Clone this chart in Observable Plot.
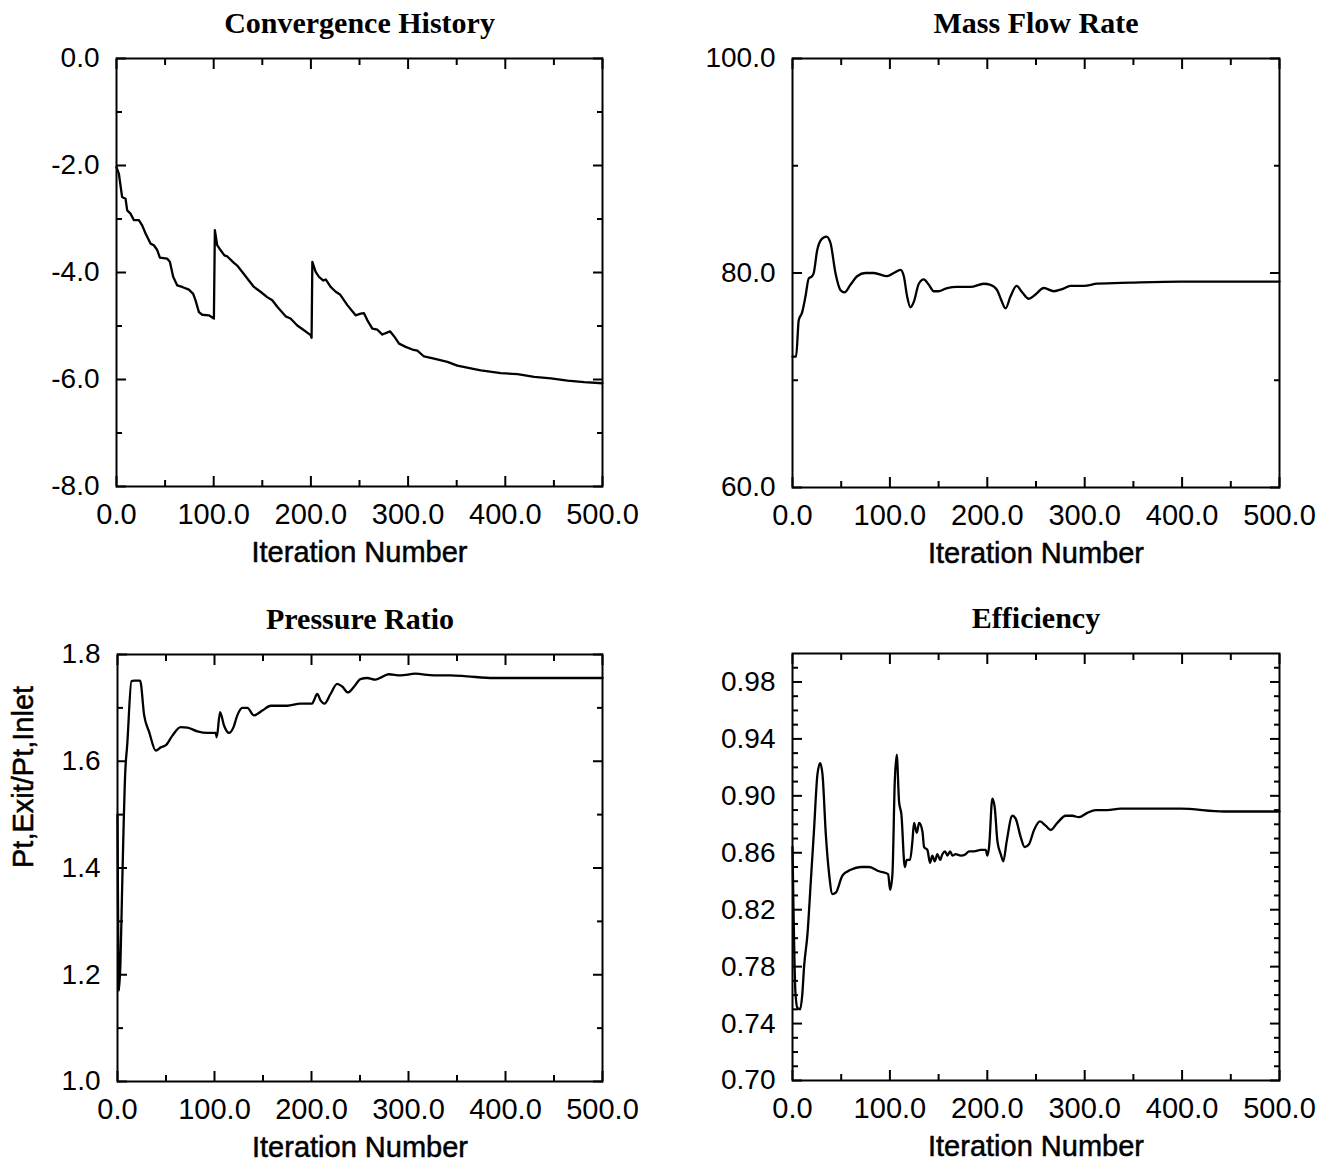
<!DOCTYPE html>
<html><head><meta charset="utf-8">
<script src="https://cdn.jsdelivr.net/npm/d3@7"></script>
<script src="https://cdn.jsdelivr.net/npm/@observablehq/plot@0.6"></script>
<style>
html,body{margin:0;padding:0;background:#fff;overflow:hidden;}
#fig{position:relative;width:1323px;height:1164px;overflow:hidden;background:#fff;}
</style></head><body><div id="fig"></div>
<script>
// ---- tick labels ----
const iterTicks = [0, 100, 200, 300, 400, 500];
const iterMinor = [50, 150, 250, 350, 450];
const convTicks = [-8, -6, -4, -2, 0];
const convMinor = [-7, -5, -3, -1];
const massTicks = [60, 80, 100];
const massMinor = [70, 90];
const prTicks = [1.0, 1.2, 1.4, 1.6, 1.8];
const prMinor = [1.1, 1.3, 1.5, 1.7];
const effTicks = [0.70, 0.74, 0.78, 0.82, 0.86, 0.90, 0.94, 0.98];
const effMinor = [0.71, 0.72, 0.73, 0.75, 0.76, 0.77, 0.79, 0.80, 0.81, 0.83, 0.84, 0.85, 0.87, 0.88, 0.89, 0.91, 0.92, 0.93, 0.95, 0.96, 0.97, 0.99];

// ---- Convergence History ----
const convIter = [0, 2.4, 5.8, 9.3, 11, 14.4, 17.8, 23, 26.4, 29.9, 35, 38.4, 41.9, 44.6, 52, 54.9, 58.3, 62.4, 67.6, 74.5, 78.9, 81.3, 84.8, 88.2, 95, 100.2, 101.2, 103.6, 107, 111, 114, 120.8, 124.2, 129.4, 136.2, 141.4, 148.2, 155, 160.3, 165.4, 174, 179, 186, 192.9, 199.7, 200.7, 201.5, 204.9, 208.3, 212.8, 215.2, 220.3, 225.5, 229.9, 237.5, 246, 251.2, 254.6, 258, 263.2, 268.4, 273.5, 281.4, 285.5, 290.7, 297.5, 304.4, 309.5, 316.4, 326.7, 340.4, 350.7, 364.5, 374.8, 395.4, 412.5, 429.7, 446.9, 464, 481.1, 500];
const convResid = [-2.03, -2.15, -2.59, -2.62, -2.84, -2.90, -3.02, -3.02, -3.12, -3.27, -3.46, -3.49, -3.58, -3.72, -3.74, -3.80, -4.08, -4.24, -4.27, -4.32, -4.40, -4.52, -4.74, -4.79, -4.80, -4.86, -3.21, -3.49, -3.58, -3.68, -3.70, -3.82, -3.87, -3.99, -4.15, -4.27, -4.36, -4.46, -4.52, -4.64, -4.82, -4.86, -4.99, -5.08, -5.17, -5.22, -3.80, -3.99, -4.08, -4.15, -4.13, -4.27, -4.36, -4.41, -4.61, -4.80, -4.77, -4.76, -4.89, -5.05, -5.07, -5.16, -5.10, -5.19, -5.33, -5.39, -5.44, -5.46, -5.57, -5.61, -5.67, -5.74, -5.79, -5.83, -5.88, -5.90, -5.95, -5.98, -6.02, -6.05, -6.07];

// ---- Mass Flow Rate ----
const massIter = [0, 3.7, 6.4, 9.8, 13.3, 16.7, 20.1, 21.8, 25.3, 30.4, 34.9, 39, 44.1, 49.3, 53.4, 59.5, 66.4, 74.9, 83.5, 97.2, 104, 110.9, 114.3, 117.7, 121.1, 124.5, 129.7, 134.8, 140, 145.1, 150.2, 158.8, 169, 182.7, 196.4, 203.3, 210.1, 214.2, 218.7, 223.8, 230, 235.8, 242.6, 249.5, 258, 268.3, 276.9, 285.4, 299.1, 312.8, 347, 398.4, 449.7, 500];
const massFlow = [72.2, 72.2, 75.6, 76.3, 77.8, 79.5, 79.7, 80.0, 82.1, 83.2, 83.4, 82.8, 80.0, 78.4, 78.2, 78.9, 79.7, 80.0, 80.0, 79.7, 80.0, 80.3, 79.7, 77.8, 76.8, 77.3, 79.0, 79.4, 78.9, 78.3, 78.3, 78.6, 78.7, 78.7, 79.0, 78.9, 78.4, 77.5, 76.7, 77.8, 78.8, 78.2, 77.6, 78.0, 78.6, 78.3, 78.5, 78.8, 78.8, 79.0, 79.1, 79.2, 79.2, 79.2];

// ---- Pressure Ratio ----
const prIter = [0, 1.5, 3, 5, 8, 10, 14.4, 17.2, 23.3, 27.5, 32.6, 39.5, 44.6, 49.8, 56.6, 65.2, 72.1, 82.4, 92.7, 101.2, 102.3, 105.7, 109.8, 115, 119.4, 123.5, 128.7, 133.8, 140.7, 149.3, 157.9, 175, 188.7, 200.8, 202.5, 205.9, 209.3, 213.4, 219.6, 226.5, 231.6, 237.5, 243.6, 250.5, 257.4, 266, 272.8, 279.7, 291.7, 307.1, 326, 343.2, 360.3, 387.8, 429, 500];
const prRatio = [1.50, 1.17, 1.22, 1.38, 1.58, 1.63, 1.750, 1.751, 1.751, 1.686, 1.655, 1.620, 1.626, 1.630, 1.648, 1.664, 1.663, 1.656, 1.653, 1.653, 1.645, 1.692, 1.667, 1.653, 1.663, 1.686, 1.700, 1.700, 1.686, 1.695, 1.704, 1.704, 1.708, 1.708, 1.714, 1.726, 1.714, 1.708, 1.726, 1.745, 1.740, 1.729, 1.739, 1.754, 1.756, 1.753, 1.758, 1.763, 1.761, 1.764, 1.761, 1.761, 1.759, 1.756, 1.756, 1.756];

// ---- Efficiency ----
const effIter = [0, 1, 2, 3, 5, 7.8, 10, 11.9, 15.4, 18.8, 22, 25.6, 28.4, 30.8, 34.2, 37.6, 41, 44.5, 51.3, 59.8, 70.1, 78.7, 88.9, 98.2, 100.2, 102.6, 105, 107, 109.4, 111.8, 115.3, 117.3, 120.7, 123.1, 124.8, 127.6, 130, 133.4, 135.1, 138.5, 141.2, 143.6, 146, 148.8, 151.5, 153.9, 156.6, 159, 161.8, 164.2, 167.6, 172.7, 177.8, 181.3, 186.4, 193.2, 198.4, 200.1, 201.8, 205.2, 207.6, 210.4, 213.8, 216.5, 219.9, 225.7, 229.1, 234.3, 238.4, 242.8, 248, 254.1, 259.9, 265.1, 271.9, 280.5, 287.3, 294.1, 302.7, 311.2, 323.2, 336.9, 364.2, 398.4, 442.9, 500];
const effValue = [0.864, 0.821, 0.785, 0.762, 0.751, 0.750, 0.760, 0.780, 0.803, 0.840, 0.875, 0.915, 0.923, 0.915, 0.873, 0.845, 0.831, 0.832, 0.844, 0.848, 0.850, 0.850, 0.847, 0.845, 0.834, 0.845, 0.910, 0.929, 0.896, 0.887, 0.850, 0.855, 0.855, 0.868, 0.881, 0.874, 0.881, 0.875, 0.864, 0.862, 0.853, 0.858, 0.854, 0.859, 0.855, 0.859, 0.861, 0.858, 0.861, 0.858, 0.859, 0.858, 0.859, 0.861, 0.861, 0.862, 0.862, 0.858, 0.864, 0.898, 0.892, 0.868, 0.859, 0.854, 0.868, 0.886, 0.884, 0.871, 0.864, 0.866, 0.876, 0.882, 0.879, 0.876, 0.881, 0.886, 0.886, 0.885, 0.888, 0.890, 0.890, 0.891, 0.891, 0.891, 0.889, 0.889];

const sans = "'Liberation Sans', Arial, Helvetica, sans-serif";
const serif = "'Liberation Serif', 'Times New Roman', serif";

function panel({title, iter, vals, yDomain, yTicks, yMinor, yFmt, yLabel, curve, frame}) {
  const ml = 130, mr = 60, mt = 70, mb = 90;
  const [x0, x1, y0, y1] = frame;
  const data = iter.map((x, i) => ({x, y: vals[i]}));
  const blank = () => "";
  const ink = {fill: "black", stroke: "black", strokeWidth: 0.5};
  const marks = [
    // inward ticks on all four sides
    Plot.axisX({anchor: "bottom", ticks: iterTicks, tickSize: -10, tickFormat: blank, strokeWidth: 2, label: null}),
    Plot.axisX({anchor: "bottom", ticks: iterMinor, tickSize: -6, tickFormat: blank, strokeWidth: 2, label: null}),
    Plot.axisX({anchor: "top", ticks: iterTicks, tickSize: -10, tickFormat: blank, strokeWidth: 2, label: null}),
    Plot.axisX({anchor: "top", ticks: iterMinor, tickSize: -6, tickFormat: blank, strokeWidth: 2, label: null}),
    Plot.axisY({anchor: "left", ticks: yTicks, tickSize: -10, tickFormat: blank, strokeWidth: 2, label: null}),
    Plot.axisY({anchor: "left", ticks: yMinor, tickSize: -6, tickFormat: blank, strokeWidth: 2, label: null}),
    Plot.axisY({anchor: "right", ticks: yTicks, tickSize: -10, tickFormat: blank, strokeWidth: 2, label: null}),
    Plot.axisY({anchor: "right", ticks: yMinor, tickSize: -6, tickFormat: blank, strokeWidth: 2, label: null}),
    // tick labels
    Plot.axisX({anchor: "bottom", ticks: iterTicks, tickSize: 0, tickPadding: 17, tickFormat: d => d.toFixed(1), fontSize: 29, fontFamily: sans, label: null, ...ink}),
    Plot.axisY({anchor: "left", ticks: yTicks, tickSize: 0, tickPadding: 17, tickFormat: yFmt, fontSize: 28, fontFamily: sans, label: null, ...ink}),
    Plot.frame({strokeWidth: 2}),
    Plot.line(data, {x: "x", y: "y", stroke: "black", strokeWidth: 2.3, curve}),
    Plot.text([title], {text: d => d, frameAnchor: "top", dy: -35, lineAnchor: "middle", fontSize: 30, fontWeight: "bold", fontFamily: serif, fill: "black"}),
    Plot.text(["Iteration Number"], {text: d => d, frameAnchor: "bottom", dy: 66, lineAnchor: "middle", fontSize: 29, fontFamily: sans, ...ink})
  ];
  if (yLabel) marks.push(Plot.text([yLabel], {text: d => d, frameAnchor: "left", dx: -94, rotate: -90, lineAnchor: "middle", fontSize: 29, fontFamily: sans, ...ink}));
  const svg = Plot.plot({
    width: (x1 - x0) + ml + mr,
    height: (y1 - y0) + mt + mb,
    marginLeft: ml, marginRight: mr, marginTop: mt, marginBottom: mb,
    x: {domain: [0, 500]},
    y: {domain: yDomain},
    marks
  });
  Object.assign(svg.style, {position: "absolute", left: (x0 - ml) + "px", top: (y0 - mt) + "px", maxWidth: "none", background: "transparent", overflow: "visible", color: "black"});
  document.getElementById("fig").appendChild(svg);
}

panel({title: "Convergence History", iter: convIter, vals: convResid, yDomain: [-8, 0], yTicks: convTicks, yMinor: convMinor, yFmt: d => d.toFixed(1), curve: "linear", frame: [116, 602, 58, 486]});
panel({title: "Mass Flow Rate", iter: massIter, vals: massFlow, yDomain: [60, 100], yTicks: massTicks, yMinor: massMinor, yFmt: d => d.toFixed(1), curve: "monotone-x", frame: [792, 1279, 58, 487]});
panel({title: "Pressure Ratio", iter: prIter, vals: prRatio, yDomain: [1.0, 1.8], yTicks: prTicks, yMinor: prMinor, yFmt: d => d.toFixed(1), yLabel: "Pt,Exit/Pt,Inlet", curve: "monotone-x", frame: [117, 602, 654, 1081]});
panel({title: "Efficiency", iter: effIter, vals: effValue, yDomain: [0.70, 1.00], yTicks: effTicks, yMinor: effMinor, yFmt: d => d.toFixed(2), curve: "monotone-x", frame: [792, 1279, 653, 1080]});
</script></body></html>
